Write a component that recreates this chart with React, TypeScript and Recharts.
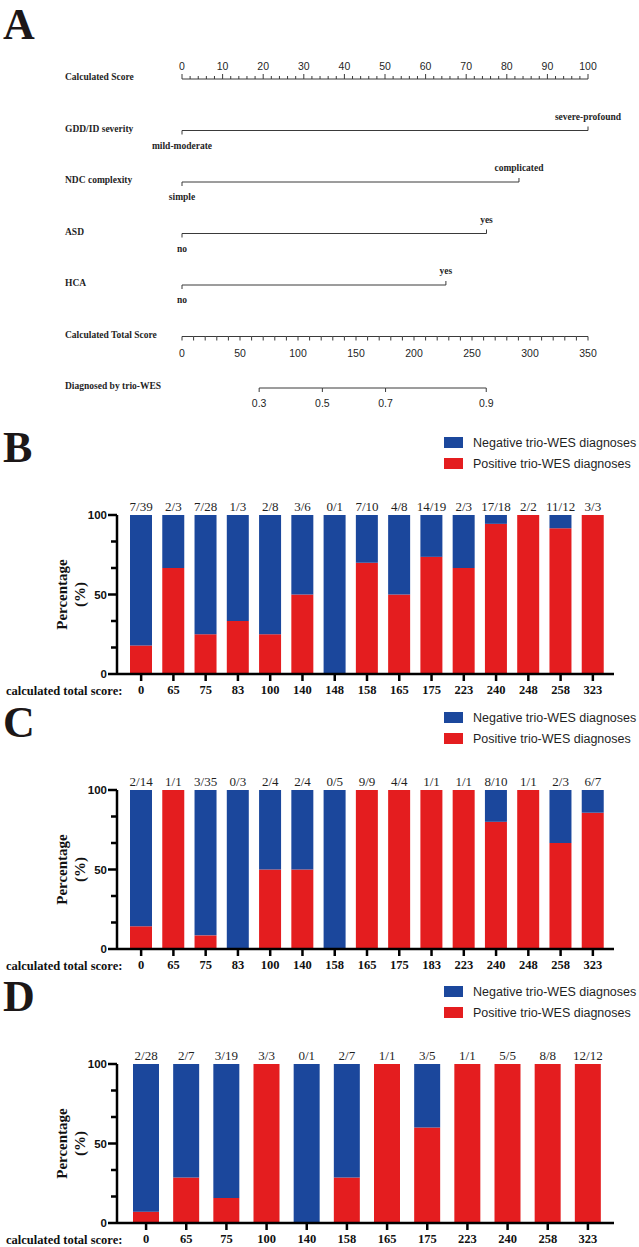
import React from 'react';
import { ScatterChart, Scatter, BarChart, Bar, XAxis, YAxis, Legend } from 'recharts';

const SERIF = '"Liberation Serif", "Times New Roman", serif';
const SANS = '"Liberation Sans", Arial, sans-serif';
const INK = '#1f1f1f';
const RULE = '#3a3a3a';
const BLUE = '#1b479c';
const RED = '#e41d1f';

// ---------- nomogram (panel A) ----------
const rowLabels = [
  'Calculated Score',
  'GDD/ID severity',
  'NDC complexity',
  'ASD',
  'HCA',
  'Calculated Total Score',
  'Diagnosed by trio-WES',
];
const predictorPoints = [100, 83, 75, 65];
const lowLevels = ['mild-moderate', 'simple', 'no', 'no'];
const highLevels = ['severe-profound', 'complicated', 'yes', 'yes'];

const scoreTicks = Array.from({ length: 51 }, (_, i) => i * 2);
const totalTicks = Array.from({ length: 36 }, (_, i) => i * 10);
const probTicks = [0.3, 0.5, 0.7, 0.9];
// logistic link between total score and probability of a diagnosis
const totalAtHalf = 121;
const pointsPerLogit = 64.3;

// ---------- diagnostic yield by total score (panels B-D) ----------
const scoresB = [0, 65, 75, 83, 100, 140, 148, 158, 165, 175, 223, 240, 248, 258, 323];
const positivesB = [7, 2, 7, 1, 2, 3, 0, 7, 4, 14, 2, 17, 2, 11, 3];
const totalsB = [39, 3, 28, 3, 8, 6, 1, 10, 8, 19, 3, 18, 2, 12, 3];

const scoresC = [0, 65, 75, 83, 100, 140, 158, 165, 175, 183, 223, 240, 248, 258, 323];
const positivesC = [2, 1, 3, 0, 2, 2, 0, 9, 4, 1, 1, 8, 1, 2, 6];
const totalsC = [14, 1, 35, 3, 4, 4, 5, 9, 4, 1, 1, 10, 1, 3, 7];

const scoresD = [0, 65, 75, 100, 140, 158, 165, 175, 223, 240, 258, 323];
const positivesD = [2, 2, 3, 3, 0, 2, 1, 3, 1, 5, 8, 12];
const totalsD = [28, 7, 19, 3, 1, 7, 1, 5, 1, 5, 8, 12];

const yTicks = [0, 50 / 3, 100 / 3, 50, 200 / 3, 250 / 3, 100];
const yLabelled = [0, 50, 100];

// panel letters: 44px bold serif, baseline sits ~40px below the div top
const letterStyle = (top: number): React.CSSProperties => ({
  position: 'absolute',
  left: 3,
  top,
  fontFamily: SERIF,
  fontWeight: 'bold',
  fontSize: 44,
  lineHeight: '44px',
  color: '#1c1717',
  zIndex: 2,
});

const ScoreTick = (props: any) => {
  const { x, y, payload } = props;
  const major = payload.value % 10 === 0;
  return (
    <g>
      <line x1={x} x2={x} y1={y} y2={y - (major ? 5 : 3)} stroke={RULE} />
      {major && (
        <text x={x} y={y - 13} textAnchor="middle" dominantBaseline="central"
          fontFamily={SANS} fontSize={10.5} fill={INK}>
          {payload.value}
        </text>
      )}
    </g>
  );
};

const RowLabel = (props: any) => {
  const { y, payload } = props;
  return (
    <text x={65} y={y - 2} dominantBaseline="central" fontFamily={SERIF}
      fontWeight="bold" fontSize={9.5} fill={INK}>
      {rowLabels[payload.value]}
    </text>
  );
};

const LevelMark = (props: any) => {
  const { cx, cy, payload } = props;
  const up = payload.high;
  return (
    <g>
      <line x1={cx} x2={cx} y1={cy} y2={up ? cy - 4 : cy + 4} stroke={RULE} />
      <text x={cx} y={up ? cy - 14 : cy + 15} textAnchor="middle" dominantBaseline="central"
        fontFamily={SERIF} fontWeight="bold" fontSize={9.5} fill={INK}>
        {payload.label}
      </text>
    </g>
  );
};

const TotalMark = (props: any) => {
  const { cx, cy, payload } = props;
  return (
    <g>
      <line x1={cx} x2={cx} y1={cy} y2={cy + 4} stroke={RULE} />
      {payload.x % 50 === 0 && (
        <text x={cx} y={cy + 16} textAnchor="middle" dominantBaseline="central"
          fontFamily={SANS} fontSize={10.5} fill={INK}>
          {payload.x}
        </text>
      )}
    </g>
  );
};

const ProbMark = (props: any) => {
  const { cx, cy, payload } = props;
  return (
    <g>
      <line x1={cx} x2={cx} y1={cy} y2={cy + 4} stroke={RULE} />
      <text x={cx} y={cy + 15} textAnchor="middle" dominantBaseline="central"
        fontFamily={SANS} fontSize={10.5} fill={INK}>
        {payload.p.toFixed(1)}
      </text>
    </g>
  );
};

function Nomogram() {
  const levelRows = predictorPoints.map((pts, i) => [
    { x: 0, y: i + 1, label: lowLevels[i], high: false },
    { x: pts, y: i + 1, label: highLevels[i], high: true },
  ]);
  const totalRow = totalTicks.map((x) => ({ x, y: 5 }));
  const probRow = probTicks.map((p) => ({
    x: totalAtHalf + pointsPerLogit * Math.log(p / (1 - p)),
    y: 6,
    p,
  }));

  return (
    <div style={{ position: 'absolute', left: 0, top: 0 }}>
      <div style={letterStyle(3)}>A</div>
      <ScatterChart width={639} height={418} margin={{ top: 0, right: 51, bottom: 30, left: 0 }}>
        <XAxis xAxisId="pts" orientation="top" type="number" dataKey="x" domain={[0, 100]}
          ticks={scoreTicks} interval={0} height={79} tickSize={0} tickMargin={0}
          tickLine={false} axisLine={{ stroke: RULE }} tick={ScoreTick} />
        <XAxis xAxisId="total" type="number" dataKey="x" domain={[0, 350]} hide />
        <YAxis type="number" dataKey="y" domain={[0, 6]} reversed ticks={[0, 1, 2, 3, 4, 5, 6]}
          interval={0} width={182} axisLine={false} tickLine={false} tickSize={0} tick={RowLabel} />
        {levelRows.map((row, i) => (
          <Scatter key={i} xAxisId="pts" data={row} fill={RULE}
            line={{ stroke: RULE, strokeWidth: 1 }} shape={LevelMark} isAnimationActive={false} />
        ))}
        <Scatter xAxisId="total" data={totalRow} fill={RULE}
          line={{ stroke: RULE, strokeWidth: 1 }} shape={TotalMark} isAnimationActive={false} />
        <Scatter xAxisId="total" data={probRow} fill={RULE}
          line={{ stroke: RULE, strokeWidth: 1 }} shape={ProbMark} isAnimationActive={false} />
      </ScatterChart>
    </div>
  );
}

const DiagnosisLegend = (props: any) => {
  const items = [...(props.payload || [])].sort((a: any, b: any) =>
    String(a.value).localeCompare(String(b.value)));
  return (
    <div>
      {items.map((it: any) => (
        <div key={it.value} style={{ display: 'flex', alignItems: 'center', height: 21 }}>
          <span style={{ display: 'inline-block', width: 19, height: 11, background: it.color, marginRight: 10 }} />
          <span style={{ fontFamily: SANS, fontSize: 12.5, color: INK, whiteSpace: 'nowrap' }}>{it.value}</span>
        </div>
      ))}
    </div>
  );
};

const PercentTick = (props: any) => {
  const { x, y, payload } = props;
  const major = yLabelled.some((v) => Math.abs(v - payload.value) < 1e-6);
  return (
    <g>
      <line x1={x - (major ? 9 : 6)} x2={x} y1={y} y2={y} stroke="#000" strokeWidth={2.5} />
      {major && (
        <text x={x - 10} y={y} textAnchor="end" dominantBaseline="central"
          fontFamily={SANS} fontWeight="bold" fontSize={11.5} fill="#111">
          {Math.round(payload.value)}
        </text>
      )}
    </g>
  );
};

const PercentTitle = (props: any) => {
  const vb = props.viewBox || {};
  const cy = (vb.y || 0) + (vb.height || 0) / 2;
  const style = { fontFamily: SERIF, fontWeight: 'bold' as const, fontSize: 15, fill: '#111' };
  return (
    <g>
      <text transform={`translate(62, ${cy}) rotate(-90)`} textAnchor="middle" dominantBaseline="central" {...style}>
        Percentage
      </text>
      <text transform={`translate(80, ${cy}) rotate(-90)`} textAnchor="middle" dominantBaseline="central" {...style}>
        (%)
      </text>
    </g>
  );
};

const ScoreCaption = (props: any) => {
  const vb = props.viewBox || {};
  return (
    <text x={6} y={(vb.y || 0) + 17} dominantBaseline="central" fontFamily={SERIF}
      fontWeight="bold" fontSize={12.5} fill="#111">
      calculated total score:
    </text>
  );
};

type PanelProps = {
  letter: string;
  plotTop: number;
  scores: number[];
  positives: number[];
  totals: number[];
  barSize: number;
  padding: { left: number; right: number };
};

function ScorePanel({ letter, plotTop, scores, positives, totals, barSize, padding }: PanelProps) {
  const data = scores.map((s, i) => ({
    score: String(s),
    ratio: `${positives[i]}/${totals[i]}`,
    positive: (positives[i] / totals[i]) * 100,
    negative: ((totals[i] - positives[i]) / totals[i]) * 100,
  }));
  const plotHeight = 159;

  return (
    <div style={{ position: 'absolute', left: 0, top: plotTop - 88 }}>
      <div style={letterStyle(-1)}>{letter}</div>
      <BarChart width={639} height={88 + plotHeight + 35} data={data} barSize={barSize}
        margin={{ top: 58, right: 25, bottom: 0, left: 0 }}>
        <XAxis xAxisId="ratio" orientation="top" dataKey="ratio" height={30} padding={padding}
          axisLine={false} tickLine={false} tickSize={0} tickMargin={4} interval={0}
          tick={{ fontFamily: SERIF, fontSize: 13, fill: INK }} />
        <XAxis dataKey="score" height={35} padding={padding} interval={0}
          axisLine={{ stroke: '#000', strokeWidth: 2.5 }}
          tickLine={{ stroke: '#000', strokeWidth: 2.5 }} tickSize={7} tickMargin={4}
          tick={{ fontFamily: SERIF, fontWeight: 'bold', fontSize: 12.5, fill: '#111' }}
          label={ScoreCaption} />
        <YAxis type="number" domain={[0, 100]} ticks={yTicks} interval={0} width={117}
          axisLine={{ stroke: '#000', strokeWidth: 2.5 }} tickLine={false} tickSize={0} tickMargin={0}
          tick={PercentTick} label={PercentTitle} />
        <Legend layout="vertical" align="center" verticalAlign="middle" content={DiagnosisLegend}
          wrapperStyle={{ top: 5, left: 444, width: 195 }} />
        <Bar dataKey="positive" stackId="yield" fill={RED} name="Positive trio-WES diagnoses"
          isAnimationActive={false} />
        <Bar dataKey="negative" stackId="yield" fill={BLUE} name="Negative trio-WES diagnoses"
          isAnimationActive={false} />
      </BarChart>
    </div>
  );
}

export default function App() {
  return (
    <div style={{ position: 'absolute', left: 0, top: 0, width: 639, height: 1247, background: '#fff', overflow: 'hidden' }}>
      <Nomogram />
      <ScorePanel letter="B" plotTop={515} scores={scoresB} positives={positivesB} totals={totalsB}
        barSize={22} padding={{ left: 8, right: 5 }} />
      <ScorePanel letter="C" plotTop={790} scores={scoresC} positives={positivesC} totals={totalsC}
        barSize={22} padding={{ left: 8, right: 5 }} />
      <ScorePanel letter="D" plotTop={1064} scores={scoresD} positives={positivesD} totals={totalsD}
        barSize={26} padding={{ left: 9, right: 6 }} />
    </div>
  );
}
